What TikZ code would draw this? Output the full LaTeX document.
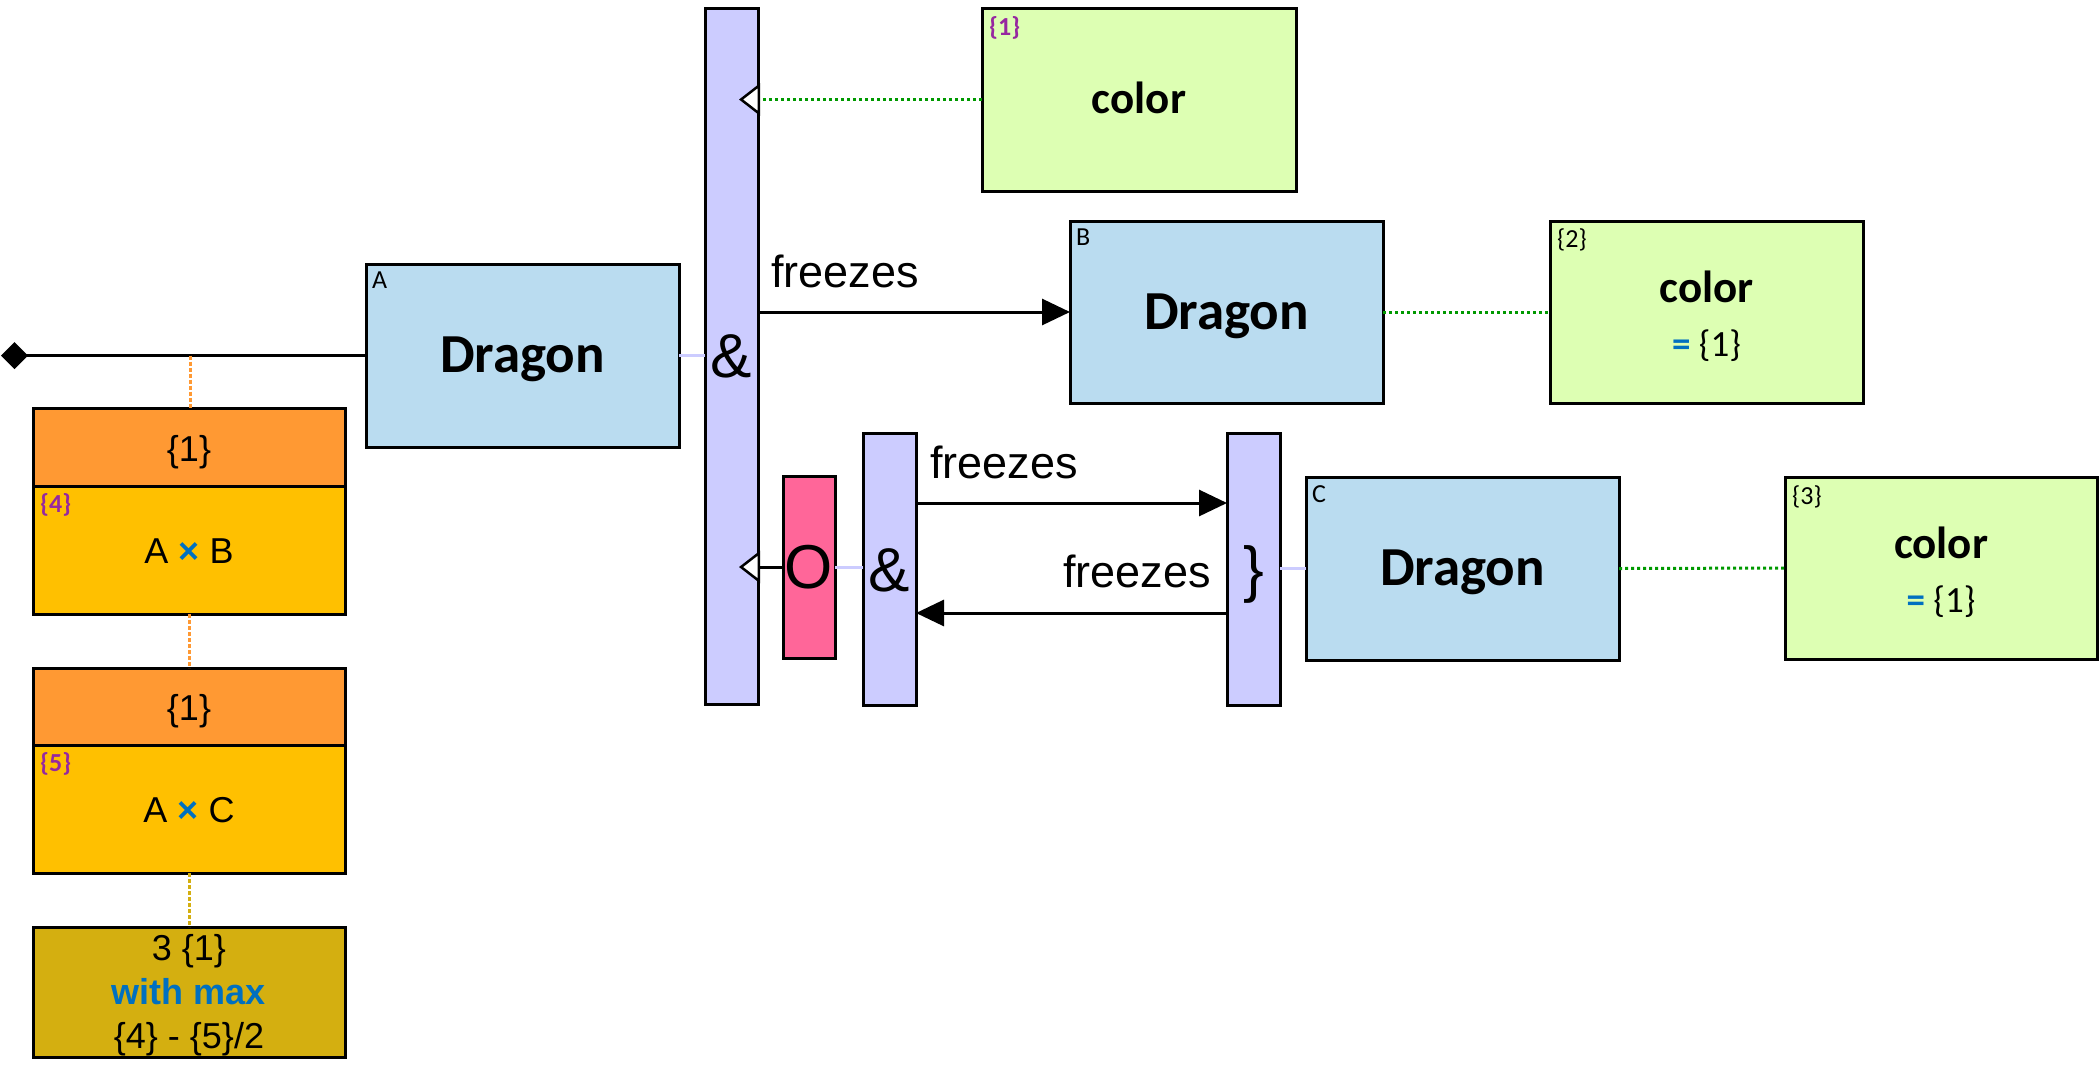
\documentclass[tikz,border=0pt]{standalone}
\usepackage{fontspec}
\setmainfont{Liberation Sans}
\newfontfamily\carl{Carlito}
\usetikzlibrary{arrows.meta,calc}
\definecolor{cblue}{RGB}{186,220,240}
\definecolor{cgreen}{RGB}{221,255,179}
\definecolor{corange}{RGB}{255,153,51}
\definecolor{cyellow}{RGB}{255,192,0}
\definecolor{cdark}{RGB}{212,175,16}
\definecolor{clav}{RGB}{204,204,255}
\definecolor{cpink}{RGB}{255,102,153}
\definecolor{cpurple}{RGB}{150,40,160}
\definecolor{ctxtblue}{RGB}{0,112,192}
\definecolor{cdotgreen}{RGB}{0,153,0}
\newcommand{\fsz}[1]{\fontsize{#1}{#1}\selectfont}
\tikzset{
  box/.style={draw=black, line width=3pt, inner sep=0pt, outer sep=0pt, anchor=north west},
  bluebox/.style={box, fill=cblue},
  greenbox/.style={box, fill=cgreen},
  barbox/.style={box, fill=clav},
  pinkbox/.style={box, fill=cpink},
  orbox/.style={box, fill=corange},
  yebox/.style={box, fill=cyellow},
  dkbox/.style={box, fill=cdark},
  lbl/.style={inner sep=0pt, anchor=north west, font=\carl\fsz{26}},
  plbl/.style={inner sep=0pt, anchor=north west, font=\carl\bfseries\fsz{26}, text=cpurple},
  dragon/.style={inner sep=0pt, anchor=base, font=\carl\bfseries\fsz{55}},
  colortxt/.style={inner sep=0pt, anchor=base, font=\carl\bfseries\fsz{45}},
  eqtxt/.style={inner sep=0pt, anchor=base, font=\carl\fsz{37}},
  boxtxt/.style={inner sep=0pt, anchor=base, font=\fsz{36}},
  symtxt/.style={inner sep=0pt, font=\fsz{62}},
  frz/.style={inner sep=0pt, font=\fsz{45}},
  conn/.style={line width=3pt, draw=black},
  lav/.style={line width=3pt, draw=clav},
  gdot/.style={line width=3pt, draw=cdotgreen, dash pattern=on 3pt off 3pt},
  odot/.style={line width=3pt, draw=corange, dash pattern=on 4pt off 2pt},
  kdot/.style={line width=3pt, draw=cdark, dash pattern=on 4pt off 2pt},
  solidtip/.style={-{Triangle[length=28pt,width=26pt]}},
  opentip/.style={-{Triangle[open,fill=white,color=black,length=21pt,width=32pt,line width=2.5pt]}}
}
\begin{document}
\begin{tikzpicture}[x=1pt,y=-1pt]
\useasboundingbox (0,0) rectangle (2099,1080);

% boxes
\node[bluebox, minimum width=313, minimum height=183] (A) at (366,264) {};
\node[bluebox, minimum width=313, minimum height=182] (B) at (1070,221) {};
\node[bluebox, minimum width=313, minimum height=183] (C) at (1306,477) {};
\node[greenbox, minimum width=314, minimum height=183] (G1) at (982,8) {};
\node[greenbox, minimum width=313, minimum height=182] (G2) at (1550,221) {};
\node[greenbox, minimum width=312, minimum height=182] (G3) at (1785,477) {};
\node[barbox, minimum width=53, minimum height=696] (Bar1) at (705,8) {};
\node[pinkbox, minimum width=52, minimum height=182] (O) at (783,476) {};
\node[barbox, minimum width=53, minimum height=272] (Bar2) at (863,433) {};
\node[barbox, minimum width=53, minimum height=272] (Bar3) at (1227,433) {};
\node[orbox, minimum width=312, minimum height=78] (H1) at (33,408) {};
\node[yebox, minimum width=312, minimum height=128] (Y1) at (33,486) {};
\node[orbox, minimum width=312, minimum height=77] (H2) at (33,668) {};
\node[yebox, minimum width=312, minimum height=128] (Y2) at (33,745) {};
\node[dkbox, minimum width=312, minimum height=130] (K) at (33,927) {};

% corner labels
\node[lbl] (la) at ($(A.north west)+(6,8)$) {A};
\node[lbl] (lb) at ($(B.north west)+(6,8)$) {B};
\node[lbl] (lc) at ($(C.north west)+(6,8)$) {C};
\node[plbl] (lg1) at ($(G1.north west)+(7,8)$) {\{1\}};
\node[lbl] (lg2) at ($(G2.north west)+(7,8)$) {\{2\}};
\node[lbl] (lg3) at ($(G3.north west)+(7,8)$) {\{3\}};
\node[plbl] (ly1) at ($(Y1.north west)+(7,7)$) {\{4\}};
\node[plbl] (ly2) at ($(Y2.north west)+(7,7)$) {\{5\}};

% main texts
\node[dragon] (ta) at ($(A.center)+(0,17)$) {Dragon};
\node[dragon] (tb) at ($(B.center)+(0,17)$) {Dragon};
\node[dragon] (tc) at ($(C.center)+(0,17)$) {Dragon};
\node[colortxt] (tg1) at ($(G1.center)+(0,13.5)$) {color};
\node[colortxt] (tg2) at ($(G2.center)+(0,-10)$) {color};
\node[eqtxt] (eg2) at ($(G2.center)+(0,44)$) {{\bfseries\color{ctxtblue}=} \{1\}};
\node[colortxt] (tg3) at ($(G3.center)+(0,-10)$) {color};
\node[eqtxt] (eg3) at ($(G3.center)+(0,44)$) {{\bfseries\color{ctxtblue}=} \{1\}};
\node[boxtxt] (th1) at ($(H1.center)+(0,14)$) {\{1\}};
\node[boxtxt] (ty1) at ($(Y1.center)+(0,13)$) {A {\bfseries\color{ctxtblue}×} B};
\node[boxtxt] (th2) at ($(H2.center)+(0,14)$) {\{1\}};
\node[boxtxt] (ty2) at ($(Y2.center)+(0,13)$) {A {\bfseries\color{ctxtblue}×} C};
\node[inner sep=0pt, font=\fontsize{36}{44}\selectfont, align=center] (tk) at ($(K.center)+(0,3)$)
  {3 \{1\}\\{\bfseries\color{ctxtblue}with max}\\\{4\} - \{5\}/2};

% bar symbols
\node[symtxt] (s1) at (Bar1.center) {\&};
\node[symtxt] (s2) at (O.center) {O};
\node[symtxt] (s3) at ($(Bar2.center)+(0,1)$) {\&};
\node[symtxt] (s4) at ($(Bar3.center)+(0,5)$) {\}};

% connectors
\coordinate (root) at (1,355.5);
\coordinate (j1) at (190,355.5);
\draw[conn, {Diamond[length=27pt,width=27pt]}-] (root) -- (A.west);
\draw[odot] (j1) -- (j1 |- H1.north);
\draw[odot] (Y1.south) -- (H2.north);
\draw[kdot] (Y2.south) -- (K.north);
\draw[lav] (A.east) -- (A.east -| Bar1.west);
\draw[lav] (O.east) -- (O.east -| Bar2.west);
\draw[lav] (Bar3.east |- C.west) -- (C.west);
\draw[gdot] (B.east) -- (G2.west);
\draw[gdot] (C.east) -- (G3.west);
\draw[gdot, opentip] (G1.west) -- ($(Bar1.east |- G1.west)+(-19,0)$);
\draw[conn, opentip] (O.west) -- ($(Bar1.east |- O.west)+(-19,0)$);
\draw[conn, solidtip] (Bar1.east |- B.west) -- (B.west);
\draw[conn, solidtip] ($(Bar2.north east)+(0,70)$) -- ($(Bar3.north west)+(0,70)$);
\draw[conn, solidtip] ($(Bar3.north west)+(0,180)$) -- ($(Bar2.north east)+(0,180)$);

% arrow labels
\node[frz, anchor=base west] (f1) at ($(Bar1.east |- B.west)+(13,-25)$) {freezes};
\node[frz, anchor=base west] (f2) at ($(Bar2.north east)+(14,45)$) {freezes};
\node[frz, anchor=base east] (f3) at ($(Bar3.north west)+(-16,154)$) {freezes};
\end{tikzpicture}
\end{document}
